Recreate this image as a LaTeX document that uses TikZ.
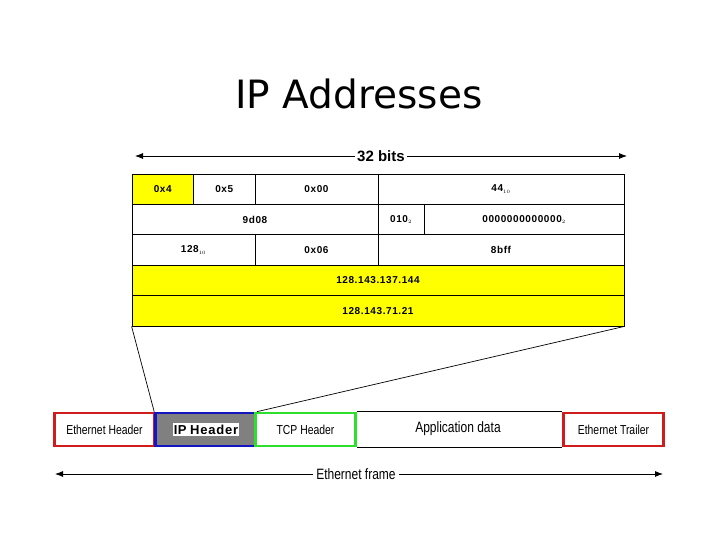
\documentclass[tikz,border=0pt]{standalone}
\usepackage{fontspec}
\setmainfont{Liberation Sans}
\newfontfamily\titlefont{DejaVu Sans}
\newfontfamily\narrowfont[FakeStretch=0.8]{Liberation Sans}
\newfontfamily\cellfont[LetterSpace=6]{Liberation Sans}
\usetikzlibrary{arrows.meta}
\definecolor{hilite}{HTML}{FFFF00}
\definecolor{ethred}{HTML}{D01C1C}
\definecolor{ipblue}{HTML}{1414C0}
\definecolor{tcpgreen}{HTML}{2EE02E}
\definecolor{ipgray}{HTML}{808080}
\tikzset{
  cell/.style={draw, line width=0.8pt, minimum height=30.4pt, inner sep=0pt,
    font=\cellfont\fontsize{10}{12}\selectfont\bfseries},
  ethbox/.style={draw, line width=2.6pt, minimum width=100pt, minimum height=33pt,
    inner sep=0pt, font=\narrowfont\fontsize{13}{15}\selectfont},
  span/.style={{Latex[length=8pt,width=6pt]}-{Latex[length=8pt,width=6pt]}, line width=0.8pt}
}
\newcommand{\sub}[1]{$_{\scriptscriptstyle #1}$}

\begin{document}
\begin{tikzpicture}[x=1pt, y=-1pt]
    \useasboundingbox[fill=white] (0,0) rectangle (720,540);

    % Title
    \node[font=\titlefont\fontsize{39}{44}\selectfont] (title) at (359,94) {IP Addresses};

    % 32 bits
    \coordinate (bitsl) at (135,156);
    \coordinate (bitsr) at (627,156);
    \draw[span] (bitsl) -- (bitsr)
      node[midway, fill=white, inner sep=2pt, font=\fontsize{15}{17}\selectfont\bfseries] (bits) {32 bits};

    % Header row 1
    \node[cell, fill=hilite, minimum width=61.5pt] (ver) at (162.75,189.2) {0x4};
    \node[cell, minimum width=61.5pt] (hlen) at (224.25,189.2) {0x5};
    \node[cell, minimum width=123pt] (tos) at (316.5,189.2) {0x00};
    \node[cell, minimum width=246pt] (totlen) at (501,189.2) {44\sub{10}};

    % Header row 2
    \node[cell, minimum width=246pt] (ident) at (255,219.6) {9d08};
    \node[cell, minimum width=46.1pt] (flags) at (401.05,219.6) {010\sub{2}};
    \node[cell, minimum width=199.9pt] (frag) at (524.05,219.6) {0000000000000\sub{2}};

    % Header row 3
    \node[cell, minimum width=123pt] (ttl) at (193.5,250) {128\sub{10}};
    \node[cell, minimum width=123pt] (proto) at (316.5,250) {0x06};
    \node[cell, minimum width=246pt] (chksum) at (501,250) {8bff};

    % Addresses
    \node[cell, fill=hilite, minimum width=492pt] (src) at (378,280.4) {128.143.137.144};
    \node[cell, fill=hilite, minimum width=492pt] (dst) at (378,310.8) {128.143.71.21};
    \draw[line width=1.8pt] (dst.south west) -- (dst.south east) -- (src.north east);

    % Ethernet frame
    \node[ethbox, draw=ethred] (ethhdr) at (104.5,429.5) {Ethernet Header};
    \node[ethbox, draw=ipblue, fill=ipgray] (iphdr) at (205.5,429.5) {};
    \node[fill=white, inner xsep=1pt, inner ysep=2pt,
      font=\fontsize{13}{15}\selectfont\bfseries] (iplabel) at (206,429.5) {I\kern0.5pt P H\kern0.8pt e\kern0.8pt a\kern0.8pt d\kern0.8pt e\kern0.8pt r};
    \node[ethbox, draw=tcpgreen] (tcphdr) at (305.5,429.5) {TCP Header};
    \node[ethbox, draw=ethred] (ethtrl) at (613.5,429.5) {Ethernet Trailer};
    \node[font=\narrowfont\fontsize{15}{17}\selectfont] (appdata) at (458,428.5) {Application data};
    \draw[line width=0.8pt] (tcphdr.north east) -- (ethtrl.north west);
    \draw[line width=0.8pt] (tcphdr.south east) -- (ethtrl.south west);

    % Zoom lines
    \draw[line width=0.7pt] (dst.south west) -- (iphdr.north west);
    \draw[line width=0.7pt] (dst.south east) -- (iphdr.north east);

    % Ethernet frame span
    \coordinate (framel) at (55,474);
    \coordinate (framer) at (663,474);
    \draw[span] (framel) -- (framer)
      node[pos=0.495, fill=white, inner sep=3pt, font=\narrowfont\fontsize{15}{17}\selectfont] (frame) {Ethernet frame};
\end{tikzpicture}
\end{document}
